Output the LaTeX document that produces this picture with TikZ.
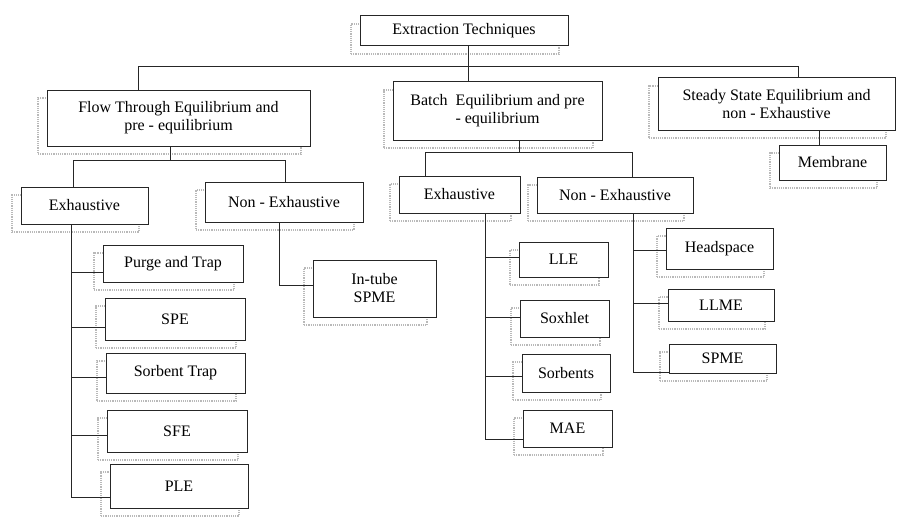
\documentclass[tikz,border=0pt]{standalone}
\usepackage{fontspec}
\setmainfont{Liberation Serif}
\usetikzlibrary{calc,shadows}
\begin{document}
\begin{tikzpicture}[x=1pt,y=-1pt,
  box/.style={draw=black!85, line width=1pt, fill=white, align=center, inner sep=2pt,
    font=\fontsize{16}{18}\selectfont,
    general shadow={draw=gray!55, line width=1.2pt, densely dotted, fill=none,
      shadow xshift=-9pt, shadow yshift=-8pt}},
  conn/.style={draw=black!85, line width=1pt}]
\useasboundingbox (0,0) rectangle (897,519);
\newcommand\bx[6]{\node[box, minimum width={#4-#2}, minimum height={#5-#3}] (#1) at ({(#2+#4)/2},{(#3+#5)/2}) {#6};}
% level 0
\bx{root}{360}{16}{568}{46}{Extraction Techniques}
% level 1
\bx{flow}{47}{90}{310}{146}{Flow Through Equilibrium and\\pre - equilibrium}
\bx{batch}{393}{82}{602}{140}{Batch\ \ Equilibrium and pre\\- equilibrium}
\bx{steady}{658}{78}{895}{130}{Steady State Equilibrium and\\non - Exhaustive}
\bx{memb}{779}{145}{886}{180}{Membrane}
% level 2
\bx{exA}{21}{187}{148}{224}{Exhaustive}
\bx{neA}{205}{182}{363}{222}{Non - Exhaustive}
\bx{exB}{399}{176}{520}{213}{Exhaustive}
\bx{neB}{537}{177}{693}{213}{Non - Exhaustive}
% leaves
\bx{purge}{103}{245}{243}{282}{Purge and Trap}
\bx{spe}{105}{298}{245}{340}{SPE}
\bx{sorb}{106}{353}{245}{393}{Sorbent Trap}
\bx{sfe}{107}{410}{247}{452}{SFE}
\bx{ple}{110}{464}{248}{508}{PLE}
\bx{intube}{313}{260}{436}{317}{In-tube\\SPME}
\bx{lle}{519}{242}{608}{277}{LLE}
\bx{soxh}{520}{300}{609}{337}{Soxhlet}
\bx{sorbs}{522}{354}{610}{392}{Sorbents}
\bx{mae}{523}{410}{612}{447}{MAE}
\bx{head}{666}{228}{773}{269}{Headspace}
\bx{llme}{668}{289}{774}{321}{LLME}
\bx{spme}{669}{344}{776}{373}{SPME}
% top bus
\coordinate (t1) at (138,67);
\coordinate (t2) at (468,67);
\coordinate (t3) at (798,67);
\draw[conn] (t1 |- flow.north) -- (t1) -- (t3) -- (t3 |- steady.north);
\draw[conn] (t2 |- root.south) -- (t2 |- batch.north);
% steady -> membrane
\coordinate (s1) at (819,0);
\draw[conn] (s1 |- steady.south) -- (s1 |- memb.north);
% flow sub-bus
\coordinate (f1) at (170,160);
\coordinate (f2) at (73,160);
\coordinate (f3) at (285,160);
\draw[conn] (f1 |- flow.south) -- (f1);
\draw[conn] (f2 |- exA.north) -- (f2) -- (f3) -- (f3 |- neA.north);
% exhaustive A children
\coordinate (e1) at (71,0);
\coordinate (jpurge) at (71,272);
\coordinate (jspe) at (71,327);
\coordinate (jsorb) at (71,377);
\coordinate (jsfe) at (71,435);
\coordinate (jple) at (71,497);
\draw[conn] (e1 |- exA.south) -- (jple);
\foreach \n in {purge,spe,sorb,sfe,ple}{\draw[conn] (j\n) -- (j\n -| \n.west);}
% non-exhaustive A child
\coordinate (n1) at (279,285);
\draw[conn] (n1 |- neA.south) -- (n1) -- (n1 -| intube.west);
% batch sub-bus
\coordinate (b1) at (519,152);
\coordinate (b2) at (425,152);
\coordinate (b3) at (632,152);
\draw[conn] (b1 |- batch.south) -- (b1);
\draw[conn] (b2 |- exB.north) -- (b2) -- (b3) -- (b3 |- neB.north);
% exhaustive B children
\coordinate (e2) at (485,0);
\coordinate (jlle) at (485,257);
\coordinate (jsoxh) at (485,317);
\coordinate (jsorbs) at (485,376);
\coordinate (jmae) at (485,439);
\draw[conn] (e2 |- exB.south) -- (jmae);
\foreach \n in {lle,soxh,sorbs,mae}{\draw[conn] (j\n) -- (j\n -| \n.west);}
% non-exhaustive B children
\coordinate (e3) at (633,0);
\coordinate (jhead) at (633,250);
\coordinate (jllme) at (633,303);
\coordinate (jspme) at (633,372);
\draw[conn] (e3 |- neB.south) -- (jspme);
\foreach \n in {head,llme,spme}{\draw[conn] (j\n) -- (j\n -| \n.west);}
\end{tikzpicture}
\end{document}
